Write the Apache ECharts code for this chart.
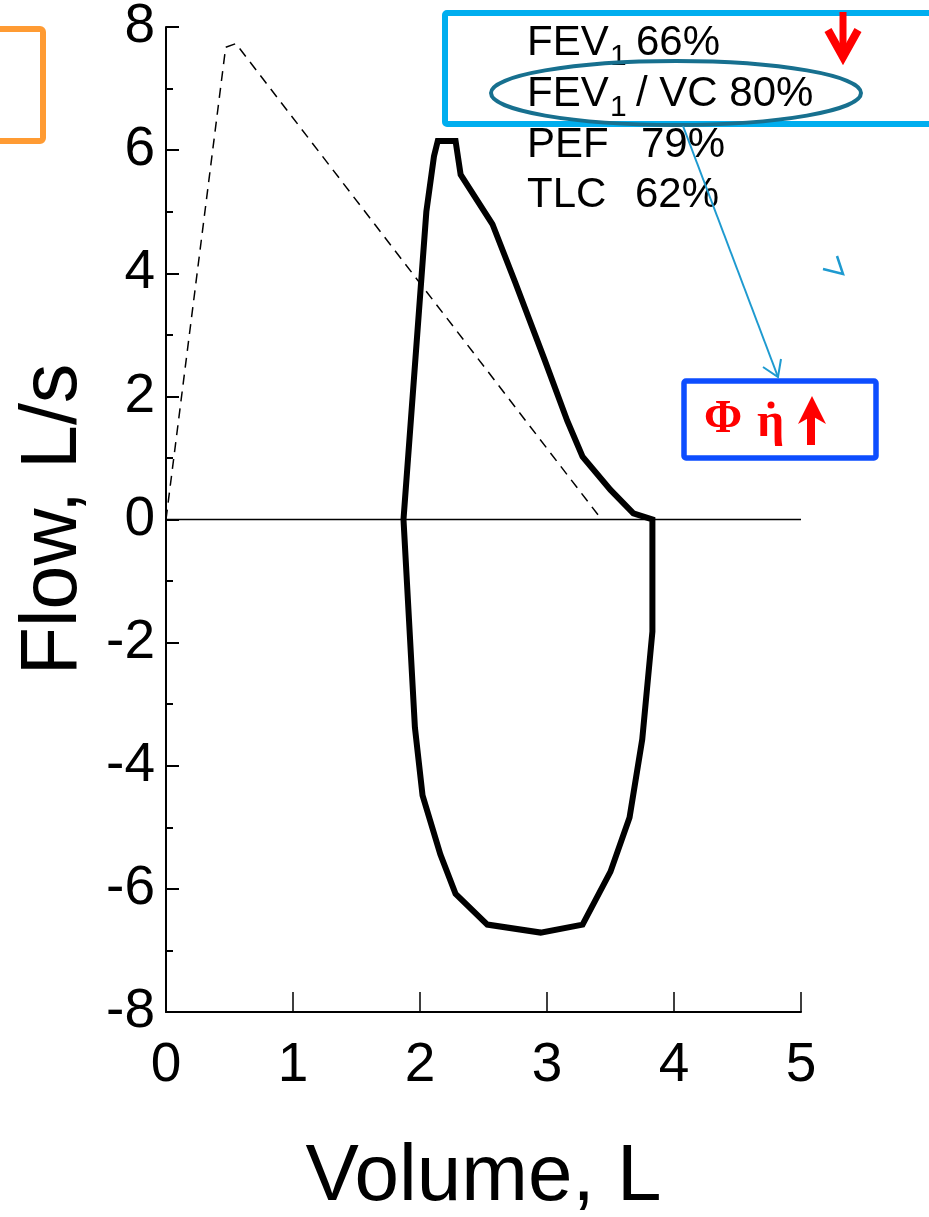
<!DOCTYPE html>
<html>
<head>
<meta charset="utf-8">
<script src="https://cdn.jsdelivr.net/npm/echarts@6/dist/echarts.min.js"></script>
<style>
  html, body { margin: 0; padding: 0; background: #fff; }
  #chart { width: 929px; height: 1217px; }
</style>
</head>
<body>
<div id="chart"></div>
<script>
// measured flow-volume loop (solid)
const loopVolume = [1.87, 2.05, 2.11, 2.14, 2.28, 2.32, 2.57, 2.75, 2.98, 3.16, 3.28, 3.50, 3.68, 3.83,
  3.83, 3.75, 3.65, 3.50, 3.28, 2.95, 2.53, 2.28, 2.16, 2.02, 1.96, 1.87];
const loopFlow = [0, 5.0, 5.9, 6.15, 6.15, 5.6, 4.8, 3.85, 2.6, 1.6, 1.02, 0.48, 0.1, 0,
  -1.82, -3.57, -4.84, -5.72, -6.58, -6.71, -6.58, -6.08, -5.44, -4.48, -3.38, 0];
// predicted expiratory curve (dashed)
const predVolume = [0, 0.47, 0.55, 3.43];
const predFlow = [0, 7.67, 7.73, 0];
// zero flow line
const zeroVolume = [0, 5];
const zeroFlow = [0, 0];

const xTicks = [0, 1, 2, 3, 4, 5];
const yTicks = [-8, -6, -4, -2, 0, 2, 4, 6, 8];

const zip = (a, b) => a.map((v, i) => [v, b[i]]);

const chart = echarts.init(document.getElementById("chart"));
const font = "'Liberation Sans', Arial, Helvetica, sans-serif";
const serif = "'Liberation Serif', 'DejaVu Serif', serif";

// plain text label for the annotation box
function label(text, x, y, size) {
  return {
    type: "text", z: 101, x: x, y: y,
    style: { text: text, fontSize: size || 42, fontFamily: font, fill: "#000", verticalAlign: "middle" },
  };
}

const option = {
  animation: false,
  backgroundColor: "#fff",
  grid: {
    left: 166,
    right: 128,
    top: 27,
    bottom: 205,
    containLabel: false,
    outerBoundsMode: "none",
  },
  xAxis: {
    type: "value",
    min: xTicks[0],
    max: xTicks[xTicks.length - 1],
    interval: 1,
    name: "Volume, L",
    nameLocation: "middle",
    nameGap: 126,
    nameTextStyle: { fontSize: 80, color: "#000", fontFamily: font },
    axisLine: { onZero: false, lineStyle: { color: "#000", width: 2 } },
    axisTick: { inside: true, length: 20, lineStyle: { color: "#000", width: 1.5 } },
    axisLabel: { fontSize: 55, color: "#000", fontFamily: font, margin: 26 },
    splitLine: { show: false },
  },
  yAxis: {
    type: "value",
    min: yTicks[0],
    max: yTicks[yTicks.length - 1],
    interval: 2,
    name: "Flow, L/s",
    nameLocation: "middle",
    nameGap: 72,
    nameTextStyle: { fontSize: 79, color: "#000", fontFamily: font },
    axisLine: { onZero: false, lineStyle: { color: "#000", width: 2 } },
    axisTick: { inside: true, length: 13, lineStyle: { color: "#000", width: 2 } },
    minorTick: { show: true, splitNumber: 2, length: 7, lineStyle: { color: "#000", width: 2 } },
    axisLabel: { fontSize: 55, color: "#000", fontFamily: font, margin: 11 },
    splitLine: { show: false },
    minorSplitLine: { show: false },
  },
  series: [
    {
      type: "line",
      data: zip(zeroVolume, zeroFlow),
      symbol: "none",
      lineStyle: { color: "#000", width: 1.5 },
      z: 1,
    },
    {
      type: "line",
      data: zip(predVolume, predFlow),
      symbol: "none",
      lineStyle: { color: "#000", width: 1.5, type: [10, 7] },
      z: 2,
    },
    {
      type: "line",
      data: zip(loopVolume, loopFlow),
      symbol: "none",
      lineStyle: { color: "#000", width: 6, join: "miter" },
      z: 3,
    },
  ],
  graphic: [
    // orange box at left edge
    {
      type: "rect", z: 100,
      shape: { x: -30, y: 29, width: 73, height: 112, r: 3 },
      style: { fill: null, stroke: "#FF9B33", lineWidth: 6 },
    },
    // cyan box round the spirometry values
    {
      type: "rect", z: 100,
      shape: { x: 445, y: 13, width: 600, height: 111, r: 2 },
      style: { fill: null, stroke: "#00AEEF", lineWidth: 6 },
    },
    label("FEV", 527, 43),
    label("1", 610, 57, 30),
    label("66%", 636, 43),
    label("FEV", 527, 94),
    label("1", 610, 108, 30),
    label("/ VC 80%", 636, 94),
    label("PEF", 527, 145),
    label("79%", 641, 145),
    label("TLC", 527, 195),
    label("62%", 635, 195),
    // ellipse round FEV1/VC
    {
      type: "ellipse", z: 102,
      shape: { cx: 676, cy: 93, rx: 185, ry: 32 },
      style: { fill: null, stroke: "#17708F", lineWidth: 4 },
    },
    // red down arrow
    {
      type: "line", z: 102,
      shape: { x1: 843, y1: 12, x2: 843, y2: 55 },
      style: { stroke: "#FF0000", lineWidth: 7 },
    },
    {
      type: "polyline", z: 102,
      shape: { points: [[828, 30], [843, 57], [858, 30]] },
      style: { stroke: "#FF0000", lineWidth: 8, lineJoin: "miter", fill: null },
    },
    // blue connector arrow
    {
      type: "line", z: 102,
      shape: { x1: 683, y1: 126, x2: 778, y2: 377 },
      style: { stroke: "#1E9AD0", lineWidth: 2 },
    },
    {
      type: "polyline", z: 102,
      shape: { points: [[763, 367], [778, 377], [781, 359]] },
      style: { stroke: "#1E9AD0", lineWidth: 2, fill: null },
    },
    {
      type: "polyline", z: 102,
      shape: { points: [[823, 269], [843, 274], [837, 256]] },
      style: { stroke: "#1E9AD0", lineWidth: 2.5, fill: null },
    },
    // blue box with red symbols
    {
      type: "rect", z: 100,
      shape: { x: 684, y: 381, width: 192, height: 77, r: 2 },
      style: { fill: null, stroke: "#0D4DFF", lineWidth: 5.5 },
    },
    {
      type: "text", z: 101, x: 704, y: 420,
      style: {
        text: "Φ",
        fontSize: 46, fontWeight: "bold", fontFamily: serif, fill: "#FF0000",
        verticalAlign: "middle",
      },
    },
    {
      type: "text", z: 101, x: 757, y: 424,
      style: {
        text: "η",
        fontSize: 48, fontWeight: "bold", fontFamily: serif, fill: "#FF0000",
        verticalAlign: "middle",
      },
    },
    {
      type: "circle", z: 101,
      shape: { cx: 771, cy: 405, r: 3.5 },
      style: { fill: "#FF0000" },
    },
    {
      type: "line", z: 101,
      shape: { x1: 811, y1: 412, x2: 811, y2: 445 },
      style: { stroke: "#FF0000", lineWidth: 8 },
    },
    {
      type: "polygon", z: 101,
      shape: { points: [[812, 396], [798, 424], [812, 416], [826, 424]] },
      style: { fill: "#FF0000" },
    },
  ],
};

chart.setOption(option);
</script>
</body>
</html>
